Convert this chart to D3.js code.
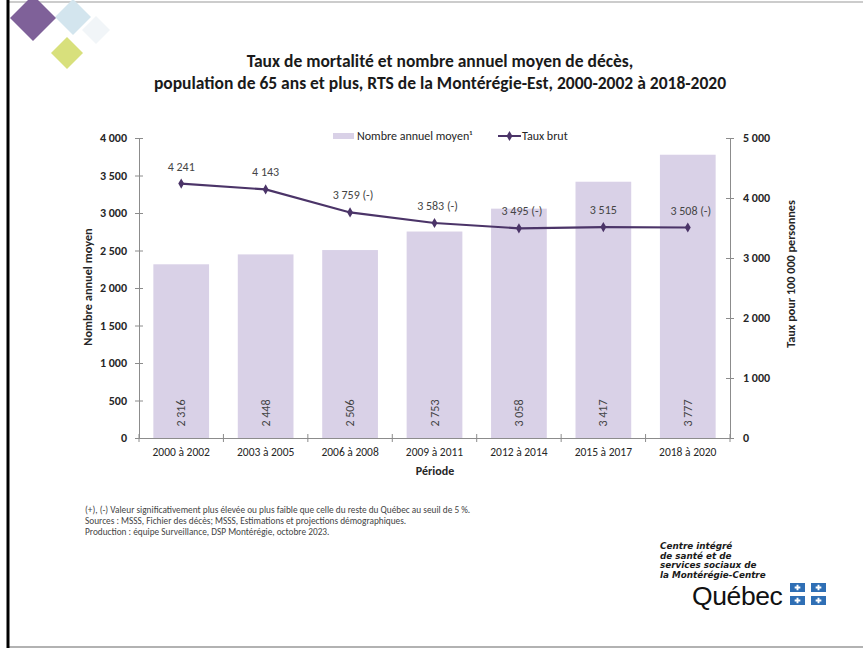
<!DOCTYPE html>
<html><head><meta charset="utf-8">
<script src="https://cdn.jsdelivr.net/npm/d3@7"></script>
<style>
html,body{margin:0;padding:0;background:#fff;}
svg text{font-family:Carlito, Lato, "Open Sans", sans-serif;}
svg text.logo{font-family:"DejaVu Sans", sans-serif;}
svg text.qc{font-family:"Liberation Sans", Arial, sans-serif;}
</style></head>
<body>
<svg id="c" width="863" height="648"></svg>
<script>
const categories = ["2000 à 2002","2003 à 2005","2006 à 2008","2009 à 2011","2012 à 2014","2015 à 2017","2018 à 2020"];
const deaths = [2316,2448,2506,2753,3058,3417,3777];
const rates = [4241,4143,3759,3583,3495,3515,3508];
const rateFlags = ["","","(-)","(-)","(-)","","(-)"];
const leftTicks = [0,500,1000,1500,2000,2500,3000,3500,4000];
const rightTicks = [0,1000,2000,3000,4000,5000];
const titleLines = ["Taux de mortalité et nombre annuel moyen de décès,",
  "population de 65 ans et plus, RTS de la Montérégie-Est, 2000-2002 à 2018-2020"];
const notes = ["(+), (-) Valeur significativement plus élevée ou plus faible que celle du reste du Québec au seuil de 5 %.",
  "Sources : MSSS, Fichier des décès; MSSS, Estimations et projections démographiques.",
  "Production : équipe Surveillance, DSP Montérégie, octobre 2023."];
const logoLines = ["Centre intégré","de santé et de","services sociaux de","la Montérégie-Centre"];

const loc = d3.formatLocale({decimal:",", thousands:"\u00a0", grouping:[3], currency:["","$"]});
const fmt = loc.format(",d");

const svg = d3.select("#c");
const barColor = "#d9d1e7", lineColor = "#4b3468", axisColor = "#8c8c8c", textColor = "#262626";

// frame
svg.append("rect").attr("x",0).attr("y",0).attr("width",863).attr("height",648).attr("fill","#fff");
svg.append("line").attr("x1",8).attr("x2",863).attr("y1",2).attr("y2",2).attr("stroke","#999").attr("stroke-width",1);
svg.append("line").attr("x1",8).attr("x2",863).attr("y1",647).attr("y2",647).attr("stroke","#999").attr("stroke-width",1.5);
svg.append("line").attr("x1",8).attr("x2",8).attr("y1",0).attr("y2",648).attr("stroke","#000").attr("stroke-width",3);

// decoration diamonds
const dia = (cx,cy,r,col,op)=>svg.append("path")
  .attr("d",`M${cx-r},${cy}L${cx},${cy-r}L${cx+r},${cy}L${cx},${cy+r}Z`).attr("fill",col).attr("opacity",op||1);
dia(96,30,14,"#f1f5f8",1);
dia(73,17,18,"#d3e5ee");
dia(33,18,23,"#7f6199");
dia(67,53,16,"#d8e07c");

// title
svg.append("g").selectAll("text").data(titleLines).join("text")
  .attr("x",440).attr("y",(d,i)=>67+i*22).attr("text-anchor","middle")
  .attr("font-size",17.5).attr("font-weight","bold").attr("fill","#1a1a1a").text(d=>d);

// scales
const x = d3.scaleBand().domain(categories).range([139,730]).paddingInner(0.34).paddingOuter(0.17);
const xp = d3.scalePoint().domain(categories).range([139,730]).padding(0.5);
const yL = d3.scaleLinear().domain([0,4000]).range([438,138]);
const yR = d3.scaleLinear().domain([0,5000]).range([438,138]);

// bars
svg.append("g").selectAll("rect").data(deaths).join("rect")
  .attr("x",(d,i)=>x(categories[i])).attr("width",x.bandwidth())
  .attr("y",d=>yL(d)).attr("height",d=>yL(0)-yL(d)).attr("fill",barColor);

// bar labels
svg.append("g").selectAll("text").data(deaths).join("text")
  .attr("transform",(d,i)=>`translate(${xp(categories[i])+4},413) rotate(-90)`)
  .attr("text-anchor","middle").attr("font-size",12).attr("fill","#444").text(d=>fmt(d));

// axes
const axStyle = g=>{g.selectAll(".domain").attr("stroke",axisColor);g.selectAll(".tick line").attr("stroke",axisColor);};
const gL = svg.append("g").attr("transform","translate(139,0)")
  .call(d3.axisLeft(yL).tickValues(leftTicks).tickFormat(fmt).tickSize(4).tickSizeOuter(0).tickPadding(8));
gL.call(axStyle);
gL.selectAll(".tick line").attr("x1",4).attr("x2",-4);
gL.selectAll(".tick text").attr("font-size",12).attr("font-weight","bold").attr("fill",textColor);

const gR = svg.append("g").attr("transform","translate(730,0)")
  .call(d3.axisRight(yR).tickValues(rightTicks).tickFormat(fmt).tickSize(4).tickSizeOuter(0).tickPadding(9));
gR.call(axStyle);
gR.selectAll(".tick line").attr("x1",-4).attr("x2",4);
gR.selectAll(".tick text").attr("font-size",12).attr("font-weight","bold").attr("fill",textColor);

const gX = svg.append("g").attr("transform","translate(0,438)")
  .call(d3.axisBottom(x).tickSize(0).tickSizeOuter(0).tickPadding(10));
gX.call(axStyle);
gX.selectAll(".tick text").attr("font-size",11.5).attr("fill",textColor);
const bounds = d3.range(categories.length+1).map(i=>139+i*(730-139)/categories.length);
svg.append("g").selectAll("line").data(bounds).join("line")
  .attr("x1",d=>d).attr("x2",d=>d).attr("y1",434).attr("y2",442).attr("stroke",axisColor);

// axis titles
svg.append("text").attr("x",435).attr("y",475).attr("text-anchor","middle")
  .attr("font-size",12).attr("font-weight","bold").attr("fill",textColor).text("Période");
svg.append("text").attr("transform","translate(92,287) rotate(-90)").attr("text-anchor","middle")
  .attr("font-size",12.3).attr("font-weight","bold").attr("fill",textColor).text("Nombre annuel moyen");
svg.append("text").attr("transform","translate(795,274) rotate(-90)").attr("text-anchor","middle")
  .attr("font-size",12.2).attr("font-weight","bold").attr("fill",textColor).text("Taux pour 100 000 personnes");

// line
const line = d3.line().x((d,i)=>xp(categories[i])).y(d=>yR(d));
svg.append("path").datum(rates).attr("d",line).attr("fill","none").attr("stroke",lineColor).attr("stroke-width",2.2);
const sym = d3.symbol().type(d3.symbolDiamond).size(30);
svg.append("g").selectAll("path").data(rates).join("path")
  .attr("transform",(d,i)=>`translate(${xp(categories[i])},${yR(d)})`).attr("d",sym).attr("fill",lineColor);
svg.append("g").selectAll("text").data(rates).join("text")
  .attr("x",(d,i)=>xp(categories[i])+(rateFlags[i]?3:0)).attr("y",(d,i)=>yR(d)-13)
  .attr("text-anchor","middle").attr("font-size",12).attr("fill","#444")
  .text((d,i)=>fmt(d)+(rateFlags[i]?" "+rateFlags[i]:""));

// legend
svg.append("rect").attr("x",333).attr("y",133).attr("width",21).attr("height",6).attr("fill",barColor);
svg.append("text").attr("x",357).attr("y",140).attr("font-size",12).attr("fill",textColor).text("Nombre annuel moyen¹");
svg.append("line").attr("x1",498).attr("x2",521).attr("y1",136).attr("y2",136).attr("stroke",lineColor).attr("stroke-width",2);
svg.append("path").attr("transform","translate(509.5,136)").attr("d",sym).attr("fill",lineColor);
svg.append("text").attr("x",522).attr("y",140).attr("font-size",12).attr("fill",textColor).text("Taux brut");

// notes
svg.append("g").selectAll("text").data(notes).join("text")
  .attr("x",85).attr("y",(d,i)=>513+i*11).attr("font-size",9.3).attr("fill","#444").text(d=>d);

// logo
svg.append("g").selectAll("text").data(logoLines).join("text").attr("class","logo")
  .attr("x",660).attr("y",(d,i)=>549+i*9.5).attr("font-size",8.8).attr("font-weight","bold")
  .attr("font-style","italic").attr("fill","#1a1a1a").text(d=>d);
svg.append("text").attr("class","qc").attr("x",692).attr("y",605).attr("font-size",26.5).attr("fill","#111")
  .attr("letter-spacing",-0.4).text("Québec");
const flag = svg.append("g");
[[790,583],[811,583],[790,596],[811,596]].forEach(([fx,fy])=>{
  flag.append("rect").attr("x",fx).attr("y",fy).attr("width",15).attr("height",9).attr("fill","#2f6fb5");
  flag.append("path").attr("transform",`translate(${fx+7.5},${fy+4.5})`)
    .attr("d",d3.symbol().type(d3.symbolCross).size(18)).attr("fill","#fff");
});
</script>
</body></html>
